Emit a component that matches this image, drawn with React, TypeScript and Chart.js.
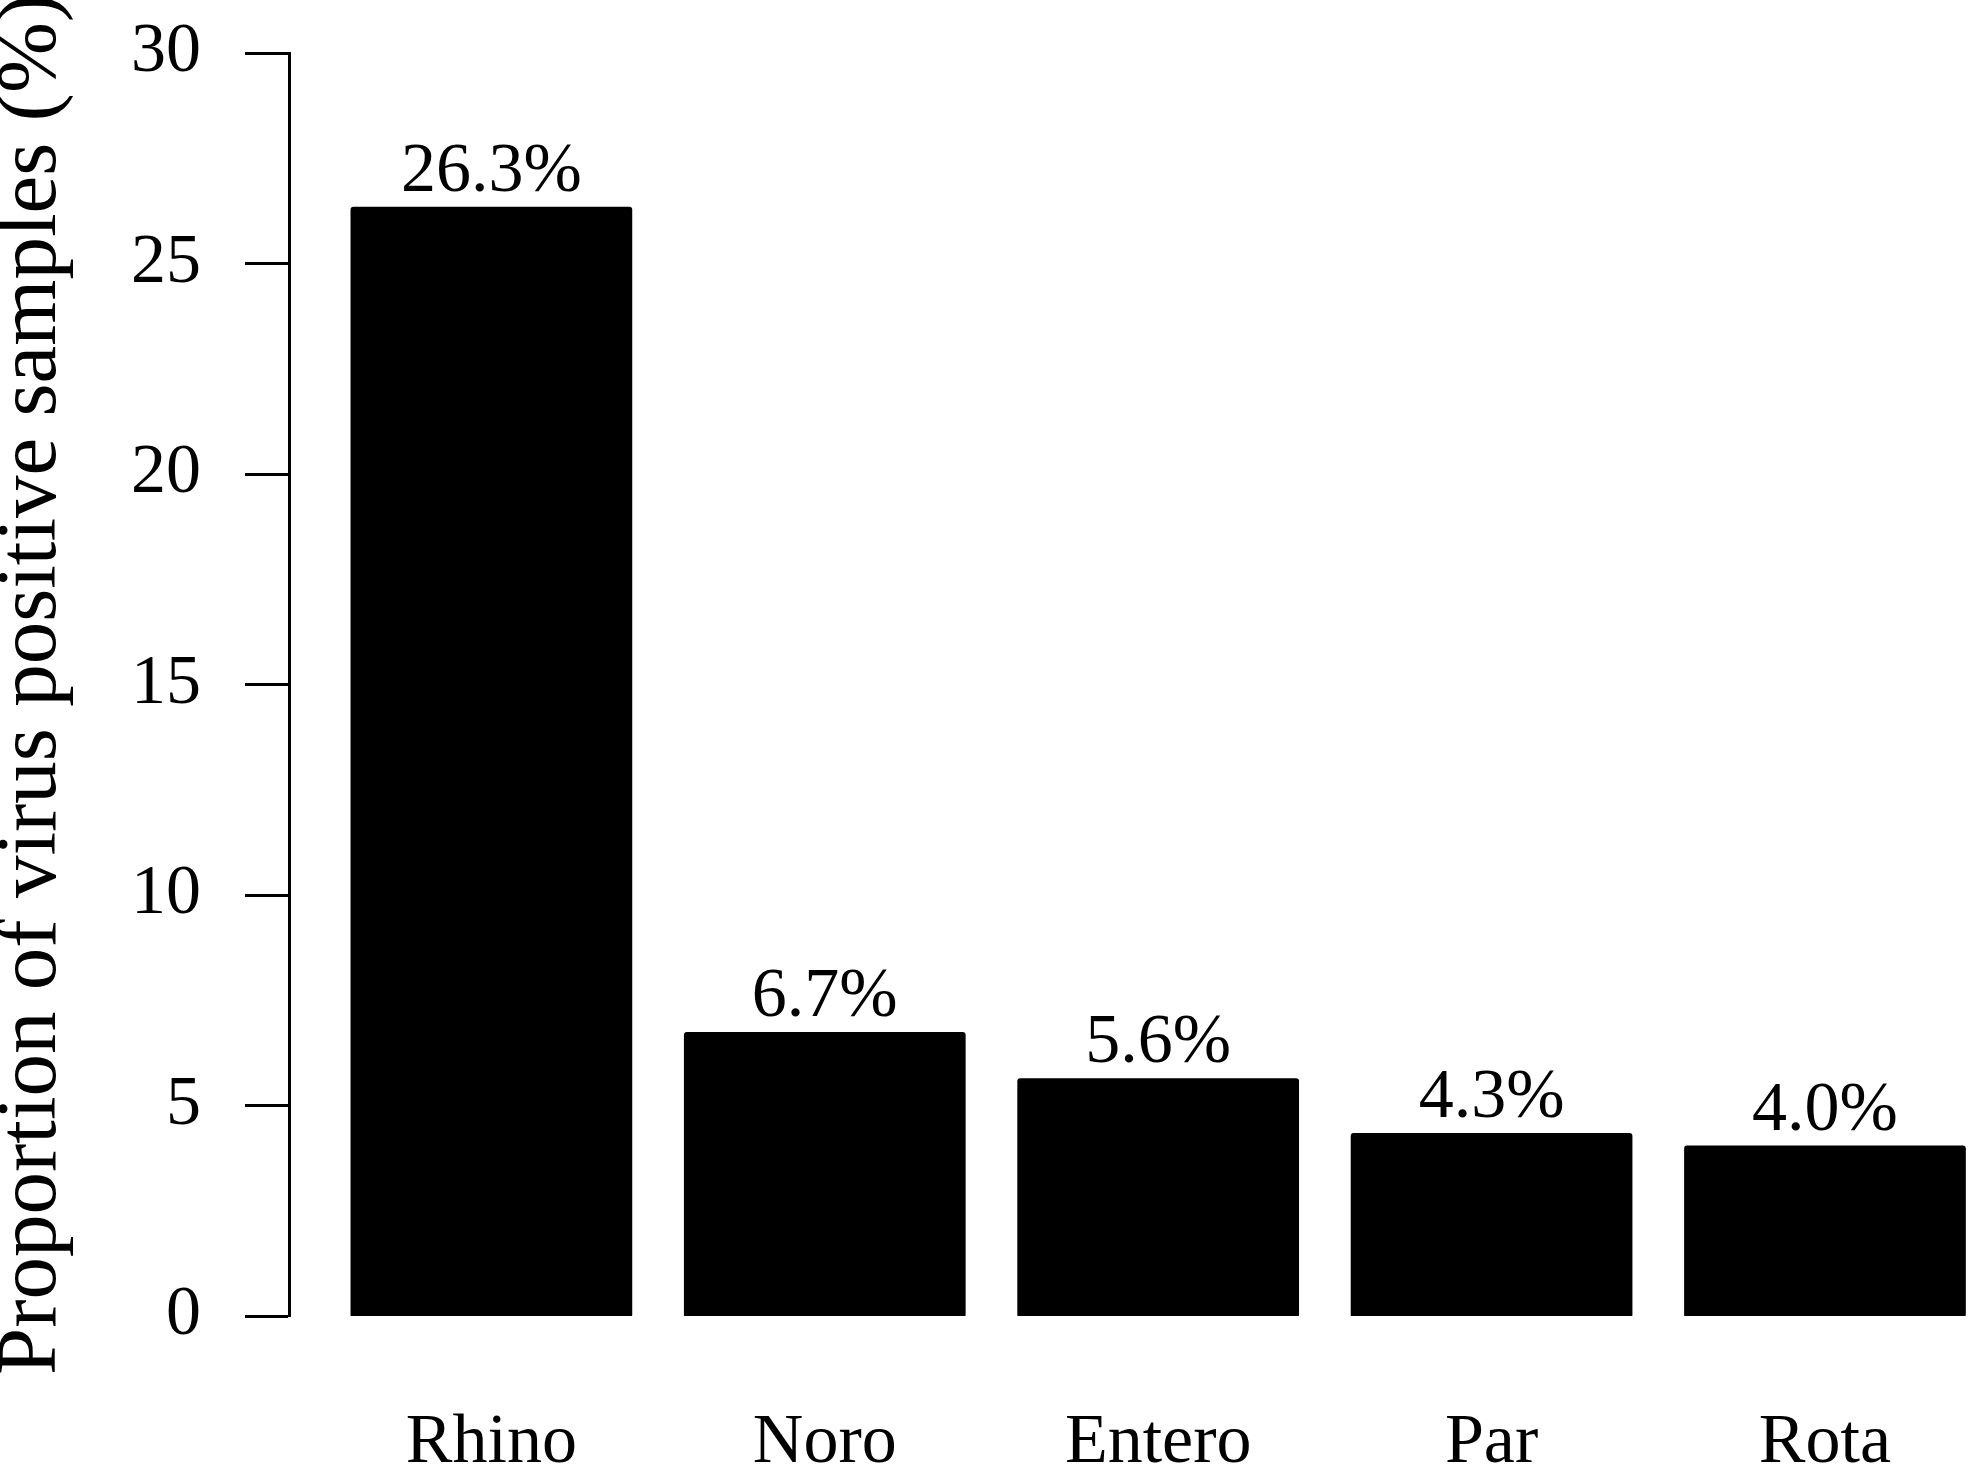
import React, { useEffect, useRef } from "react";
import { Chart, registerables } from "chart.js";

Chart.register(...registerables);

const categories = ["Rhino", "Noro", "Entero", "Par", "Rota"];
const values = [26.3, 6.7, 5.6, 4.3, 4.0];
const valueLabels = ["26.3%", "6.7%", "5.6%", "4.3%", "4.0%"];
const yTicks = [0, 5, 10, 15, 20, 25, 30];
const yTitle = "Proportion of virus positive samples (%)";

const FONT = "'Liberation Serif', 'Times New Roman', serif";

const valueLabelPlugin = {
  id: "valueLabels",
  afterDatasetsDraw(chart: any) {
    const ctx = chart.ctx;
    const meta = chart.getDatasetMeta(0);
    ctx.save();
    ctx.fillStyle = "#000";
    ctx.font = `70px ${FONT}`;
    ctx.textAlign = "center";
    ctx.textBaseline = "alphabetic";
    meta.data.forEach((el: any, i: number) => {
      ctx.fillText(valueLabels[i], el.x, el.y - 18);
    });
    ctx.restore();
  },
};

export default function App() {
  const ref = useRef<HTMLCanvasElement | null>(null);

  useEffect(() => {
    document.body.style.margin = "0";
    const canvas = ref.current;
    if (!canvas) return;
    const chart = new Chart(canvas, {
      type: "bar",
      data: {
        datasets: [
          {
            data: values.map((v, i) => ({ x: i, y: v })),
            backgroundColor: "#000",
            borderWidth: 0,
            borderRadius: 3,
            borderSkipped: false,
            inflateAmount: 2,
            categoryPercentage: 1,
            barPercentage: 0.833,
          } as any,
        ],
      },
      options: {
        animation: false,
        responsive: false,
        devicePixelRatio: 1,
        layout: { padding: { top: 53, left: 0, right: 0, bottom: 0 } },
        plugins: {
          legend: { display: false },
          tooltip: { enabled: false },
        },
        scales: {
          x: {
            type: "linear",
            offset: false,
            min: -0.607,
            max: 4.432,
            grid: { display: false, drawTicks: false },
            border: { display: false },
            afterBuildTicks: (scale: any) => {
              scale.ticks = categories.map((_, i) => ({ value: i }));
            },
            afterFit: (scale: any) => {
              scale.height = 154;
              scale.paddingLeft = 0;
              scale.paddingRight = 0;
            },
            ticks: {
              autoSkip: false,
              maxRotation: 0,
              minRotation: 0,
              padding: 86,
              color: "#000",
              font: { family: FONT, size: 70 },
              callback: (_v: any, i: number) => categories[i],
            },
          },
          y: {
            type: "linear",
            min: 0,
            max: 30,
            afterBuildTicks: (scale: any) => {
              scale.ticks = yTicks.map((v) => ({ value: v }));
            },
            afterFit: (scale: any) => {
              scale.width = 289;
              scale.paddingTop = 0;
              scale.paddingBottom = 0;
            },
            grid: {
              display: true,
              drawOnChartArea: false,
              drawTicks: true,
              tickLength: 44,
              tickWidth: 3,
              tickColor: "#000",
            },
            border: { display: true, color: "#000", width: 3 },
            ticks: {
              padding: 44,
              color: "#000",
              font: { family: FONT, size: 70 },
              callback: (v: any) => String(v),
            },
            title: {
              display: true,
              text: yTitle,
              color: "#000",
              padding: { top: 0, bottom: 0 },
              font: { family: FONT, size: 85, lineHeight: 0.78 },
            },
          },
        },
      } as any,
      plugins: [valueLabelPlugin],
    });
    return () => chart.destroy();
  }, []);

  return (
    <div style={{ position: "absolute", left: 0, top: 0, width: 1969, height: 1470, background: "#fff" }}>
      <canvas ref={ref} width={1969} height={1470} style={{ display: "block" }} />
    </div>
  );
}
